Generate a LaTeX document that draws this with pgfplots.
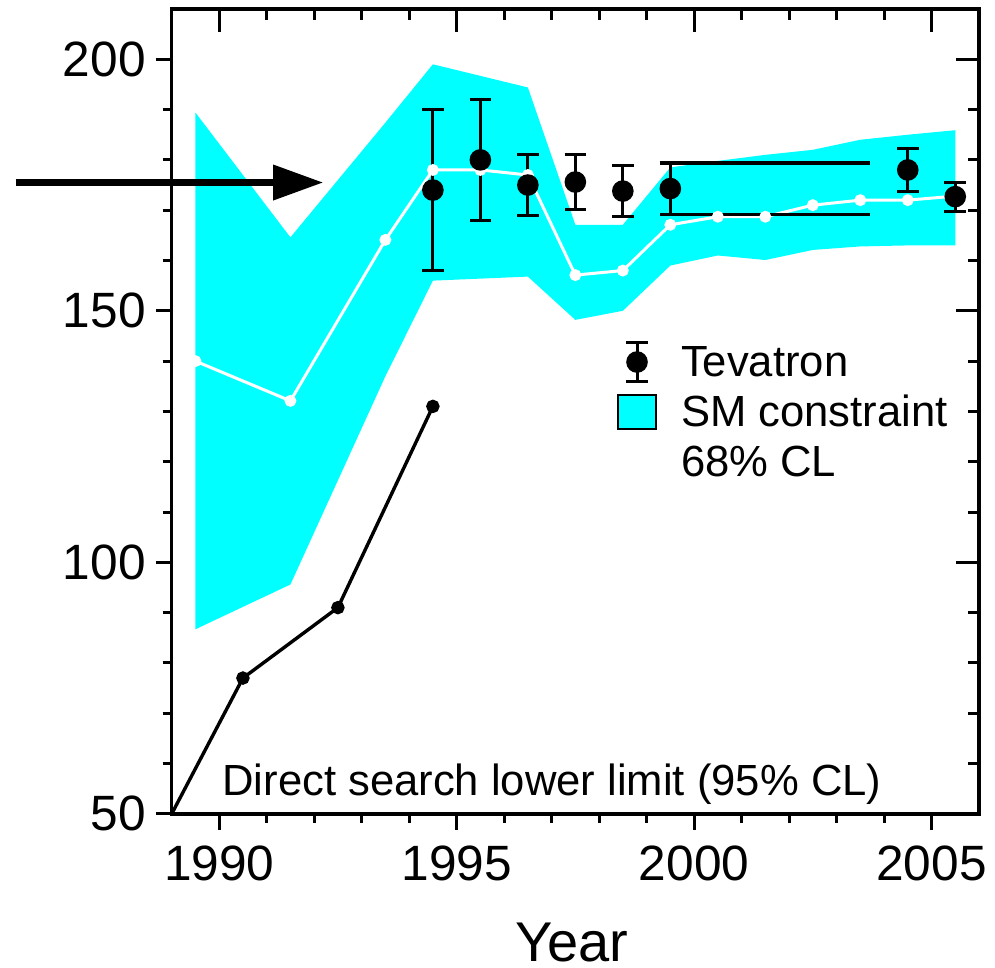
\documentclass[border=0pt]{standalone}
\usepackage{fontspec}
\setmainfont{Liberation Sans}
\usepackage{pgfplots}
\usepackage{pgfplotstable}
\pgfplotsset{compat=1.18}
\usepgfplotslibrary{fillbetween}
\usetikzlibrary{arrows.meta}

\definecolor{smband}{RGB}{0,255,255}

% SM fit: 68% CL band (upper, lower) and central value
\pgfplotstableread{
year    upper  lower  fit
1989.5  189.4   86.7  140.0
1991.5  164.6   95.6  132.1
1993.5  187.4  137.0  164.1
1994.5  199.0  156.0  178.0
1995.5  196.7  156.4  178.0
1996.5  194.4  156.8  177.0
1997.5  167.1  148.2  157.1
1998.5  167.1  150.0  158.0
1999.5  178.5  159.0  167.1
2000.5  179.8  161.0  168.7
2001.5  181.0  160.1  168.7
2002.5  182.0  162.1  171.0
2003.5  184.0  162.8  172.0
2004.5  185.0  163.0  172.0
2005.5  185.9  163.0  172.8
}\smfit

% Tevatron top mass measurements
\pgfplotstableread{
year    mt     err
1994.5  174.0  16.0
1995.5  180.0  12.0
1996.5  175.0   6.0
1997.5  175.6   5.5
1998.5  173.8   5.0
1999.5  174.3   5.1
2004.5  178.0   4.3
2005.5  172.7   2.9
}\tevatron

% Direct search lower limit (95% CL)
\pgfplotstableread{
year    limit
1989.0   50.0
1990.5   77.0
1992.5   91.0
1994.5  131.0
}\directsearch

\pgfplotsset{
  frame/.style={
    scale only axis,
    width=201.8pt, height=201.2pt,
    xmin=1989, xmax=2006, ymin=50, ymax=210,
    axis line style={line width=0.85pt},
    xtick={1990,1995,2000,2005},
    ytick={50,100,150,200},
    minor x tick num=4,
    minor y tick num=4,
    every tick/.style={black, line width=0.75pt},
  }
}

\begin{document}
\begin{tikzpicture}
\begin{axis}[
  frame,
  clip=false,
  tick pos=left,
  tick align=outside,
  major tick length=4pt,
  minor tick length=2.25pt,
  /pgf/number format/assume math mode=true,
  /pgf/number format/1000 sep={},
  ticklabel style={font=\fontsize{12.4}{14}\selectfont, inner sep=0pt},
  xticklabel style={anchor=north, yshift=-3.8pt},
  yticklabel style={anchor=east, xshift=-2.3pt},
  xlabel={Year},
  xlabel style={font=\fontsize{14}{16}\selectfont, inner sep=0pt,
    at={(axis description cs:0.4955,-0.1835)}, anchor=base},
  legend cell align=left,
  legend style={draw=none, fill=none, inner sep=0pt, outer sep=0pt,
    at={(axis description cs:0.5516,0.5876)}, anchor=north west,
    font=\fontsize{10.9}{13}\selectfont,
    row sep=2pt, column sep=6pt,
    nodes={inner sep=0pt, text height=8.75pt, text depth=1.75pt}},
]
% 68% CL band
\addplot[draw=none, name path=up, forget plot] table[x=year, y=upper] {\smfit};
\addplot[draw=none, name path=lo, forget plot] table[x=year, y=lower] {\smfit};
\addplot[smband, draw=none, forget plot] fill between[of=up and lo];

% central SM fit value
\addplot[white, line width=0.75pt, mark=*, mark size=1.1pt,
  mark options={fill=white, draw=white}, forget plot]
  table[x=year, y=fit] {\smfit};

% direct search limit
\addplot[black, line width=0.85pt, mark=*, mark size=1.25pt,
  mark indices={2,3,4}, forget plot]
  table[x=year, y=limit] {\directsearch};

% Run I combination band edges
\addplot[black, line width=0.85pt, forget plot] coordinates {(1999.29,179.4) (2003.71,179.4)};
\addplot[black, line width=0.85pt, forget plot] coordinates {(1999.29,169.2) (2003.71,169.2)};

% Tevatron measurements
\addplot[black, only marks, mark=*, mark size=2.5pt, forget plot,
  error bars/.cd, y dir=both, y explicit,
  error bar style={line width=0.75pt},
  error mark=-,
  error mark options={rotate=90, black, mark size=2.7pt, line width=0.75pt}]
  table[x=year, y=mt, y error=err] {\tevatron};

% current world average
\draw[black, line width=1.7pt, -{Triangle[length=12.5pt, width=8.5pt]}]
  (axis cs:1985.715,175.5) -- (axis cs:1992.19,175.5);

\node[anchor=base west, inner sep=0pt, font=\fontsize{10.9}{13}\selectfont]
  at (axis cs:1990.05,53.7) {Direct search lower limit (95\% CL)};

\addlegendimage{legend image code/.code={
  \draw[black, line width=0.75pt] (5pt,-4.9pt) -- (5pt,4.9pt)
    (2.3pt,4.9pt) -- (7.7pt,4.9pt) (2.3pt,-4.9pt) -- (7.7pt,-4.9pt);
  \fill[black] (5pt,0pt) circle (2.5pt);}}
\addlegendentry{Tevatron}
\addlegendimage{legend image code/.code={
  \draw[fill=smband, line width=0.5pt] (0.25pt,-4.25pt) rectangle (9.75pt,4.25pt);}}
\addlegendentry{SM constraint}
\addlegendimage{empty legend}
\addlegendentry{68\% CL}

\coordinate (bbsw) at (rel axis cs:-0.21268,-0.19036);
\coordinate (bbne) at (rel axis cs:1.01982,1.01118);
\end{axis}

% inward ticks on the top and right edges
\begin{axis}[
  frame,
  tick pos=right,
  tick align=inside,
  major tick length=5.75pt,
  minor tick length=2.75pt,
  xticklabels={}, yticklabels={},
]
\end{axis}

\pgfresetboundingbox
\path (bbsw) rectangle (bbne);
\end{tikzpicture}
\end{document}
